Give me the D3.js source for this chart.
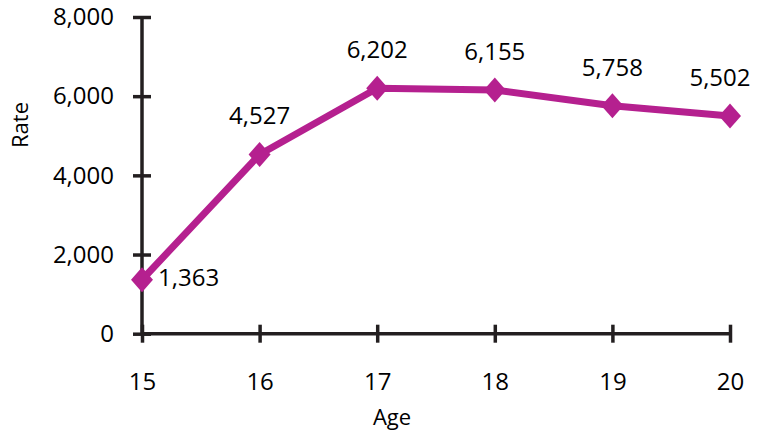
<!DOCTYPE html>
<html><head><meta charset="utf-8">
<script src="https://cdn.jsdelivr.net/npm/d3@7"></script>
<style>body{margin:0;background:#fff}svg{display:block}text{font-family:"Open Sans",sans-serif;fill:#000}</style>
</head><body><svg id="c" width="757" height="436"></svg>
<script>
const ages = [15, 16, 17, 18, 19, 20];
const rates = [1363, 4527, 6202, 6155, 5758, 5502];
const yTicks = [0, 2000, 4000, 6000, 8000];
const xLabel = "Age";
const yLabel = "Rate";

const svg = d3.select("#c");
const x = d3.scalePoint().domain(ages).range([142, 730]);
const y = d3.scaleLinear().domain([0, 8000]).range([333.7, 17]);
const axisColor = "#231f20";
const lineColor = "#b5208f";
const fmt = d3.format(",");
const fs = 24;

// y axis
const ya = svg.append("g").attr("transform", "translate(142,0)")
  .call(d3.axisLeft(y).tickValues(yTicks).tickFormat(fmt).tickSize(9).tickPadding(19));
ya.select(".domain").remove();
ya.selectAll(".tick line").attr("x1", -9).attr("x2", 9).attr("stroke", axisColor).attr("stroke-width", 3.5);
ya.selectAll(".tick text").attr("font-size", fs).attr("font-family", "Open Sans").attr("fill", "#000");
svg.append("line").attr("x1", 142).attr("x2", 142).attr("y1", y(8000)).attr("y2", y(0))
  .attr("stroke", axisColor).attr("stroke-width", 3.5);

// x axis
const xa = svg.append("g").attr("transform", "translate(0,333.7)")
  .call(d3.axisBottom(x).tickSize(9).tickPadding(30));
xa.select(".domain").remove();
xa.selectAll(".tick line").attr("y1", -9).attr("y2", 9).attr("stroke", axisColor).attr("stroke-width", 3.5);
xa.selectAll(".tick text").attr("font-size", fs).attr("font-family", "Open Sans").attr("fill", "#000");
svg.append("line").attr("x1", x(15)).attr("x2", x(20)).attr("y1", y(0)).attr("y2", y(0))
  .attr("stroke", axisColor).attr("stroke-width", 3.5);

// titles
svg.append("text").attr("x", 392).attr("y", 425).attr("text-anchor", "middle")
  .attr("font-size", 22).text(xLabel);
svg.append("text").attr("transform", "translate(28,125) rotate(-90)").attr("text-anchor", "middle")
  .attr("font-size", 22).text(yLabel);

// line
const data = ages.map((a, i) => ({a, v: rates[i]}));
svg.append("path").datum(data)
  .attr("d", d3.line().x(d => x(d.a)).y(d => y(d.v)))
  .attr("fill", "none").attr("stroke", lineColor).attr("stroke-width", 7).attr("stroke-linejoin", "round");

// markers
svg.selectAll(".m").data(data).enter().append("path")
  .attr("transform", d => `translate(${x(d.a)},${y(d.v)})`)
  .attr("d", "M0,-12.5L11,0L0,12.5L-11,0Z").attr("fill", lineColor);

// labels
svg.selectAll(".lbl").data(data).enter().append("text")
  .attr("x", (d, i) => i === 0 ? x(d.a) + 16 : (i === ages.length - 1 ? x(d.a) - 10 : x(d.a)))
  .attr("y", (d, i) => i === 0 ? y(d.v) + 6.5 : y(d.v) - 30)
  .attr("text-anchor", (d, i) => i === 0 ? "start" : "middle")
  .attr("font-size", fs).text(d => fmt(d.v));
</script></body></html>
